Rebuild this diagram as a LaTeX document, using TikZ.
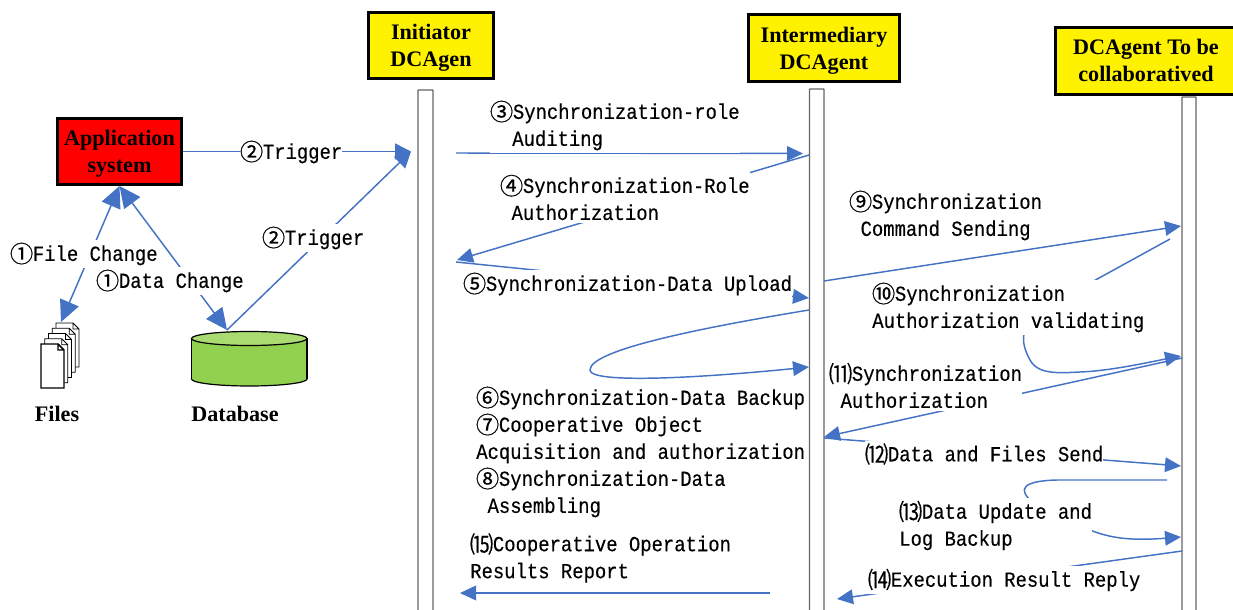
\documentclass[tikz,border=0pt]{standalone}
\usepackage{fontspec}
\setmainfont{Liberation Serif}
\setmonofont[FakeStretch=0.88,FakeBold=0.3]{Liberation Mono}
\newfontfamily\cjk[FakeBold=0.5]{Noto Sans CJK SC}
\usetikzlibrary{arrows.meta}
\definecolor{flowblue}{HTML}{4472C4}
\definecolor{dbgreen}{HTML}{92D050}
\definecolor{dbtop}{HTML}{A9DB70}
\newcommand{\cnum}[1]{\raisebox{-1.2pt}{\makebox[17pt]{\cjk\fontsize{17.5}{20.25}\selectfont #1}}}
\tikzset{
	post/.style={draw=flowblue,line width=1.1pt,-{Triangle[length=12pt,width=11pt]}},
	bigpost/.style={draw=flowblue,line width=1.1pt,-{Triangle[length=12pt,width=12pt]}},
	bothpost/.style={draw=flowblue,line width=1.1pt,{Triangle[length=16pt,width=15pt]}-{Triangle[length=16pt,width=15pt]}},
	agent/.style={draw=black,line width=2.25pt,fill=yellow,align=center,inner sep=0pt,font=\bfseries\fontsize{16.6}{20.25}\selectfont},
	msg/.style={fill=white,inner xsep=0pt,inner ysep=2pt,align=left,anchor=west,font=\ttfamily\fontsize{16.1}{20.25}\selectfont},
	caption/.style={inner sep=0pt,font=\bfseries\fontsize{16.6}{20.25}\selectfont},
	lifeline/.style={draw=black!60,line width=1pt,fill=white,rounded corners=0.5pt},
	sheet/.style={draw=black,fill=white}
}
\begin{document}
\begin{tikzpicture}[x=0.75pt,y=-0.75pt]
	\useasboundingbox (0,0) rectangle (1233,610);
	\draw[lifeline] (418,610) |- (433,90) -- (433,610);
	\draw[lifeline] (809.5,610) |- (824,89) -- (824,610);
	\draw[lifeline] (1182,610) |- (1196,97) -- (1196,610);
	\node[agent,minimum width=93.75pt,minimum height=49.5pt] (initiator) at (431,45.5) {\rule{0pt}{14.3pt}Initiator\\DCAgen};
	\node[agent,minimum width=113.25pt,minimum height=50.25pt] (intermediary) at (824,48) {\rule{0pt}{15.8pt}Intermediary\\DCAgent};
	\node[agent,minimum width=135.75pt,minimum height=50.25pt] (collab) at (1146,61) {DCAgent To be\\collaboratived\rule[-1.5pt]{0pt}{0pt}};
	\node[agent,fill=red,minimum width=93pt,minimum height=49.5pt] (app) at (119.5,151.5) {\rule{0pt}{14.3pt}Application\\system};
	\foreach \i/\w in {4/0.6,3/0.6,2/0.6,1/0.6,0/1.1}
		\draw[sheet,line width=\w pt,shift={(3.75*\i,-5.25*\i)}] (41,344) -- (58,344) -- (64,350) -- (64,388) -- (41,388) -- cycle (58,344) -- (58,350) -- (64,350);
	\draw[draw=black,fill=dbgreen,line width=0.9pt] (249.25,379) ellipse [x radius=57.75,y radius=7];
	\fill[dbgreen] (191.5,338) rectangle (307,379);
	\draw[draw=black,line width=0.9pt] (191.5,338) -- (191.5,379) (307,338) -- (307,379);
	\draw[draw=black,fill=dbtop,line width=0.9pt] (249.25,338.5) ellipse [x radius=57.75,y radius=7];
	\node[caption] (files) at (57,414) {Files};
	\node[caption] (database) at (235,414) {Database};
	\coordinate (In) at (411,151.5);
	\coordinate (FileEnd) at (61,322);
	\coordinate (DbTop) at (227,330);
	\coordinate (S3) at (456,153);
	\coordinate (E3) at (803,153.5);
	\coordinate (S4) at (809,155);
	\coordinate (E4) at (457,260);
	\coordinate (S5) at (456,262);
	\coordinate (E5) at (809,298);
	\coordinate (S6) at (809,310);
	\coordinate (M6) at (590,370);
	\coordinate (E6) at (809,367);
	\coordinate (S9) at (824,281);
	\coordinate (E9) at (1181,226);
	\coordinate (S10) at (1170,239);
	\coordinate (E10) at (1181,356);
	\coordinate (S11) at (1182,358);
	\coordinate (E11) at (824,437);
	\coordinate (S12) at (824,438);
	\coordinate (E12) at (1181,466);
	\coordinate (S13) at (1167,480);
	\coordinate (E13) at (1181,537);
	\coordinate (S14) at (1182,551);
	\coordinate (E14) at (837,599);
	\coordinate (S15) at (770,593);
	\coordinate (E15) at (460,593);
	\draw[bigpost] (app.east) -- (In);
	\draw[bigpost] (DbTop) -- (In);
	\draw[bothpost] (app.south) -- (FileEnd);
	\draw[bothpost] (app.south) -- (DbTop);
	\draw[post] (S3) -- (E3);
	\draw[post] (S4) -- (E4);
	\draw[post] (S5) -- (E5);
	\draw[post] (S6) .. controls (700,328) and (590,350) .. (M6) .. controls (590,384) and (700,378) .. (E6);
	\draw[post] (S9) -- (E9);
	\draw[post] (S10) -- (1050,305) .. controls (1015,325) and (1022,345) .. (1030,360) .. controls (1038,375) and (1060,373) .. (1080,372) .. controls (1110,371) and (1150,362) .. (E10);
	\draw[post] (S11) -- (E11);
	\draw[post] (S12) -- (E12);
	\draw[post] (S13) -- (1057,480) .. controls (1020,481) and (1020,490) .. (1030,500) -- (1090,530) .. controls (1110,538) and (1130,541) .. (E13);
	\draw[post] (S14) -- (E14);
	\draw[post] (S15) -- (E15);
	\node[msg] (trigger) at (240,152) {\cnum{②}Trigger};
	\node[msg] (trigger2) at (262,238) {\cnum{②}Trigger};
	\node[msg] (filechange) at (10,254) {\cnum{①}File Change};
	\node[msg] (datachange) at (96,281) {\cnum{①}Data Change};
	\node[msg] (m3) at (490,125.5) {\cnum{③}Synchronization-role\\\hspace*{16.5pt}Auditing};
	\node[msg] (m4) at (500,197.5) {\cnum{④}Synchronization-Role\\\hspace*{8.5pt}Authorization};
	\node[msg] (m5) at (463,284) {\cnum{⑤}Synchronization-Data Upload};
	\node[msg] (m678) at (476,452) {\cnum{⑥}Synchronization-Data Backup\\\cnum{⑦}Cooperative Object\\Acquisition and authorization\\\cnum{⑧}Synchronization-Data\\\hspace*{8.5pt}Assembling};
	\node[msg] (m15) at (470,558) {\cnum{⒂}Cooperative Operation\\Results Report};
	\node[msg] (m9) at (849,215.5) {\cnum{⑨}Synchronization\\\hspace*{8.5pt}Command Sending};
	\node[msg] (m10) at (872,307.5) {\cnum{⑩}Synchronization\\Authorization validating};
	\node[msg] (m11) at (829,385.5) {\cnum{⑾}Synchronization\\\hspace*{8.5pt}Authorization};
	\node[msg] (m12) at (865,454) {\cnum{⑿}Data and Files Send};
	\node[msg] (m13) at (899,525.5) {\cnum{⒀}Data Update and\\Log Backup};
	\node[msg] (m14) at (868,580) {\cnum{⒁}Execution Result Reply};
\end{tikzpicture}
\end{document}
